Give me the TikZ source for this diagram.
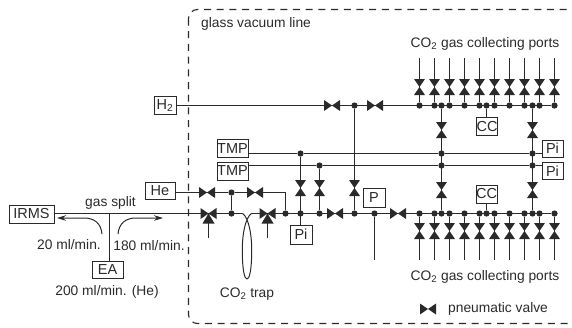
\documentclass[tikz,border=0pt]{standalone}
\usepackage{fontspec}
\setmainfont{Liberation Sans}
\usetikzlibrary{arrows.meta}
\definecolor{ink}{HTML}{2A2A2A}
\tikzset{
  x=1pt,y=-1pt,
  pipe/.style={draw=ink,line width=1.2pt},
  box/.style={draw=ink,line width=1pt,fill=white,inner sep=0pt,text=ink,font=\fontsize{14.5}{14.5}\selectfont},
  dot/.style={circle,fill=ink,inner sep=0pt,minimum size=6.2pt},
  label/.style={text=ink,inner sep=0pt,font=\fontsize{13.8}{13.8}\selectfont},
  flow/.style={draw=ink,line width=1pt,-{Stealth[length=9pt,width=5.5pt]}},
  pics/hvalve/.style={code={\fill[ink] (-8,-5.5)--(0,0)--(-8,5.5)--cycle (8,-5.5)--(0,0)--(8,5.5)--cycle;}},
  pics/vvalve/.style={code={\fill[ink] (-5.5,-8)--(0,0)--(5.5,-8)--cycle (-5.5,8)--(0,0)--(5.5,8)--cycle;}},
  pics/tvalve/.style={code={\fill[ink] (-8,-5.5)--(0,0)--(-8,5.5)--cycle (8,-5.5)--(0,0)--(8,5.5)--cycle (-6,10)--(0,0)--(6,10)--cycle;}},
}
\begin{document}
\begin{tikzpicture}
\useasboundingbox (0,0) rectangle (572,327);
\begin{scope}
\clip (0,0) rectangle (572,327);
\draw[ink,line width=1.1pt,dash pattern=on 7pt off 5.7pt,rounded corners=9pt] (188.5,9.5) rectangle (582,323.5);
\end{scope}
% boxes
\node[box,minimum width=22pt,minimum height=18pt] (h2) at (165,105.5) {H\textsubscript{2}};
\node[box,minimum width=30pt,minimum height=17pt] (he) at (160,190.5) {He};
\node[box,minimum width=45pt,minimum height=18pt] (irms) at (31.5,214) {IRMS};
\node[box,minimum width=31pt,minimum height=17pt] (ea) at (107.5,269.5) {EA};
\node[box,minimum width=31pt,minimum height=18pt] (tmpa) at (232.5,148.5) {TMP};
\node[box,minimum width=31pt,minimum height=18pt] (tmpb) at (232.5,171) {TMP};
\node[box,minimum width=22pt,minimum height=19pt] (pia) at (301,234.5) {Pi};
\node[box,minimum width=22pt,minimum height=19pt] (p) at (374,197.5) {P};
\node[box,minimum width=21pt,minimum height=18pt] (cca) at (487,126.5) {CC};
\node[box,minimum width=21pt,minimum height=18pt] (ccb) at (486.5,194) {CC};
\node[box,minimum width=21pt,minimum height=17pt] (pib) at (552.5,148.5) {Pi};
\node[box,minimum width=21pt,minimum height=17pt] (pic) at (552.5,171) {Pi};
% junctions
\foreach \n/\x/\y in {
  hj/354.5/105.5, ht/441.5/105.5, hu/532.5/105.5, hc/486.5/105.5,
  ta/300.5/153.5, tb/441.5/153.5, tc/532.5/153.5,
  ua/319.5/165.5, ub/441.5/165.5, uc/532.5/165.5,
  va/231.5/192.5,
  ma/231.5/213.5, mb/285.5/213.5, mc/300.5/213.5, md/319.5/213.5, me/354.5/213.5, mf/374.5/213.5,
  mt/441.5/213.5, mu/532.5/213.5, mcc/486.5/213.5}
  {\node[dot] (\n) at (\x,\y) {};}
% port manifolds
\foreach \i/\x in {1/419.5,2/434.5,3/449.5,4/464.5,5/479.5,6/494.5,7/509.5,8/524.5,9/539.5,10/554.5}{
  \node[dot] (pt\i) at (\x,105.5) {};
  \node[dot] (pb\i) at (\x,213.5) {};
  \coordinate (et\i) at (\x,58);
  \coordinate (eb\i) at (\x,260);
  \draw[pipe] (et\i) -- (pt\i);
  \draw[pipe] (pb\i) -- (eb\i);
  \pic at (\x,87) {vvalve};
  \pic at (\x,231) {vvalve};
}
% pipes
\draw[pipe] (h2) -- (pt10);
\draw[pipe] (irms.east|-mt) -- (pb10);
\draw[pipe] (tmpa.east|-ta) -- (ta) -- (tb) -- (tc) -- (pib.west|-tc);
\draw[pipe] (tmpb.east|-ua) -- (ua) -- (ub) -- (uc) -- (pic.west|-uc);
\draw[pipe] (he.east|-va) -- (va) -- (mb|-va) -- (mb);
\draw[pipe] (va) -- (ma);
\draw[pipe] (ta) -- (pia.north-|ta);
\draw[pipe] (ua) -- (md);
\draw[pipe] (hj) -- (me);
\draw[pipe] (ht) -- (mt);
\draw[pipe] (hu) -- (mu);
\draw[pipe] (p.south|-mf) -- (mf);
\coordinate (pend) at (374.5,260);
\draw[pipe] (mf) -- (pend);
\draw[pipe] (hc) -- (cca.north-|hc);
\draw[pipe] (mcc) -- (ccb.south-|mcc);
\coordinate (sp) at (109.5,213.5);
\draw[pipe] (ea.north-|sp) -- (sp);
% trap
\fill[white] (242,209) rectangle (252,217);
\draw[ink,line width=1pt] (242,213.5) .. controls (245,213.5) and (251.7,225) .. (251.7,250) .. controls (251.7,270) and (249.5,279) .. (247,279) .. controls (244.5,279) and (242.3,270) .. (242.3,250) .. controls (242.3,225) and (249,213.5) .. (252,213.5);
% valve actuators
\coordinate (aa) at (208.5,238); \coordinate (ab) at (267.5,238);
\draw[pipe] (aa) -- (208.5,220);
\draw[pipe] (ab) -- (267.5,220);
% valves
\pic at (332,105.5) {hvalve};
\pic at (375,105.5) {hvalve};
\pic at (207,192.5) {hvalve};
\pic at (255,192.5) {hvalve};
\pic at (335,213.5) {hvalve};
\pic at (398,213.5) {hvalve};
\pic at (208.5,213.5) {tvalve};
\pic at (267.5,213.5) {tvalve};
\pic at (300.5,188) {vvalve};
\pic at (319.5,188) {vvalve};
\pic at (354.5,188) {vvalve};
\pic at (441.5,130) {vvalve};
\pic at (532.5,130) {vvalve};
\pic at (441.5,190) {vvalve};
\pic at (532.5,190) {vvalve};
\pic at (428,309) {hvalve};
% flow arrows
\coordinate (fa) at (102,234); \coordinate (fb) at (57,218);
\coordinate (fc) at (118,234); \coordinate (fd) at (163,218);
\draw[flow] (fa) .. controls (101,223) and (94,218) .. (84,218) -- (fb);
\draw[flow] (fc) .. controls (119,223) and (126,218) .. (136,218) -- (fd);
% labels
\node[label] (t1) at (110.5,203) {gas split};
\node[label] (t2) at (69,244.5) {20 ml/min.};
\node[label] (t3) at (149,245.5) {180 ml/min.};
\node[label] (t4) at (107,292) {200 ml/min. (He)};
\node[label,anchor=west] (t5) at (201,24) {glass vacuum line};
\node[label] (t6) at (485,44) {CO\textsubscript{2} gas collecting ports};
\node[label] (t7) at (485,277) {CO\textsubscript{2} gas collecting ports};
\node[label] (t8) at (247,294) {CO\textsubscript{2} trap};
\node[label,anchor=west] (t9) at (448,309) {pneumatic valve};
\end{tikzpicture}
\end{document}
